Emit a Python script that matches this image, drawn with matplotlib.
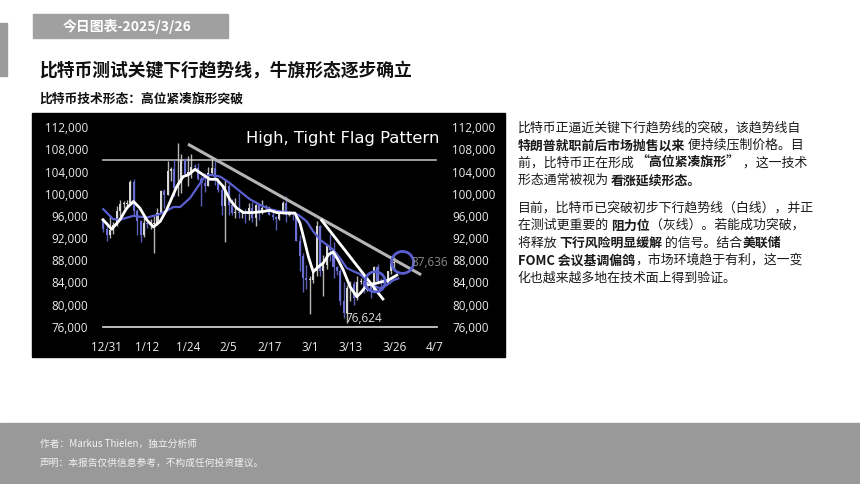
import numpy as np
import pandas as pd
import matplotlib
matplotlib.use("Agg")
import matplotlib.pyplot as plt
from matplotlib.patches import Rectangle

# ---- data (prices in thousands USD) ----
dates = pd.date_range("2024-12-29", "2025-03-25")
opens = [95.2, 93.6, 92.6, 93.4, 94.4, 96.9, 98.1, 98.2, 98.3, 102.1, 96.9, 95.0, 92.5, 94.7, 94.5,
         94.5, 94.5, 96.5, 100.5, 99.8, 104.1, 104.4, 101.1, 102.0, 106.1, 103.6, 104.0, 104.8, 104.7,
         102.6, 102.0, 101.3, 103.7, 104.7, 102.4, 100.6, 97.7, 101.4, 97.9, 96.6, 96.6, 96.5, 96.5,
         96.4, 97.4, 95.7, 97.9, 96.6, 97.5, 97.6, 96.1, 95.8, 95.5, 96.6, 98.3, 96.1, 96.6, 96.3,
         91.5, 88.7, 84.7, 84.4, 84.4, 86.0, 94.2, 86.1, 87.2, 90.6, 89.9, 86.7, 86.1, 80.7, 78.5,
         82.9, 83.7, 81.1, 84.0, 84.3, 82.6, 84.1, 82.7, 86.8, 84.2, 84.0, 83.8, 86.1, 87.5]
highs = [95.2, 94.9, 96.1, 94.9, 97.8, 98.9, 98.7, 98.8, 102.5, 102.7, 97.3, 95.3, 95.8, 94.9, 95.4,
         95.9, 97.4, 100.7, 100.8, 105.9, 104.9, 106.3, 109.1, 107.1, 106.4, 106.8, 107.1, 105.3, 105.5,
         103.2, 103.8, 104.8, 106.4, 106.0, 102.8, 101.5, 102.5, 101.7, 99.0, 99.3, 100.1, 96.9, 97.3,
         98.3, 98.5, 98.1, 98.0, 98.8, 97.9, 97.7, 97.0, 96.0, 96.9, 98.7, 99.5, 96.9, 96.7, 96.5,
         92.5, 89.3, 87.1, 85.1, 86.6, 95.0, 94.4, 88.9, 91.0, 92.8, 91.2, 86.9, 86.5, 84.0, 83.6,
         84.3, 84.3, 85.2, 84.7, 85.0, 84.7, 84.1, 87.0, 87.4, 84.8, 84.5, 86.1, 88.8, 88.5]
lows = [93.0, 91.4, 92.0, 92.8, 94.2, 96.0, 97.5, 97.3, 97.9, 96.2, 92.5, 91.2, 92.2, 93.8, 93.7,
        89.3, 94.3, 96.5, 97.4, 99.8, 102.3, 99.6, 99.5, 100.1, 103.3, 101.3, 102.8, 104.1, 102.5,
        97.8, 100.3, 101.3, 103.3, 101.6, 100.3, 96.2, 91.2, 96.2, 96.2, 95.7, 95.7, 95.7, 94.7,
        95.3, 94.9, 94.1, 95.3, 96.3, 97.2, 96.1, 95.3, 93.4, 95.2, 96.4, 94.9, 95.9, 95.3, 91.4,
        86.1, 82.3, 82.8, 78.2, 83.9, 85.1, 85.1, 81.5, 86.4, 87.8, 84.7, 85.3, 80.0, 77.5, 76.6,
        80.7, 79.9, 80.8, 83.7, 82.1, 82.5, 81.1, 82.4, 83.7, 83.2, 83.7, 83.7, 85.5, 86.3]
closes = [93.6, 92.6, 93.4, 94.4, 96.9, 98.1, 98.2, 98.3, 102.1, 96.9, 95.0, 92.5, 94.7, 94.5, 94.5,
          94.5, 96.5, 100.5, 99.8, 104.1, 104.4, 101.1, 102.0, 106.1, 103.6, 104.0, 104.8, 104.7, 102.6,
          102.0, 101.3, 103.7, 104.7, 102.4, 100.6, 97.7, 101.4, 97.9, 96.6, 96.6, 96.5, 96.5, 96.4,
          97.4, 95.7, 97.9, 96.6, 97.5, 97.6, 96.1, 95.8, 95.5, 96.6, 98.3, 96.1, 96.6, 96.3, 91.5,
          88.7, 84.7, 84.4, 84.4, 86.0, 94.2, 86.1, 87.2, 90.6, 89.9, 86.7, 86.1, 80.7, 78.5, 82.9,
          83.7, 81.1, 84.0, 84.3, 82.6, 84.1, 82.7, 86.8, 84.2, 84.0, 83.8, 86.1, 87.5, 87.6]

# short (white) and long (blue) averages, x = day index
white_x = [-1.1, 1.5, 3.9, 5.9, 7.9, 9.8, 11.8, 13.8, 15.8, 17.7, 20.7, 22.6, 24.1, 26.1, 28.5, 30.5,
           32.5, 34.4, 36.4, 38.4, 40.4, 43.3, 46.3, 48.2, 50.2, 53.2, 55.6, 57.1, 58.1, 59.6, 61.0,
           62.5, 64.0, 65.5, 66.9, 68.4, 69.9, 71.9, 73.9, 75.3, 76.8, 79.3, 81.2, 83.2, 85.7]
white_y = [95.3, 93.6, 95.3, 97.4, 98.6, 97.4, 95.3, 94.0, 95.0, 97.1, 101.3, 103.1, 103.4, 104.4, 103.4,
           102.6, 102.6, 101.3, 98.9, 97.4, 96.6, 96.6, 96.8, 97.0, 96.6, 96.5, 96.5, 94.7, 92.3, 88.6,
           85.9, 86.8, 87.5, 89.0, 89.5, 88.0, 86.2, 83.2, 81.4, 82.3, 83.5, 83.8, 84.1, 84.4, 85.3]
blue_x = [-1.0, 1.9, 3.9, 7.8, 11.8, 15.2, 17.7, 19.7, 21.7, 24.6, 27.6, 29.0, 30.5, 33.5, 36.4, 39.4,
          42.3, 45.3, 48.2, 51.2, 54.2, 56.6, 59.1, 61.0, 63.0, 65.0, 66.9, 68.9, 70.9, 72.9, 74.8,
          76.8, 78.8, 80.7, 82.7, 84.7, 86.1]
blue_y = [97.2, 95.4, 95.3, 96.0, 95.7, 96.2, 96.9, 97.6, 97.6, 99.2, 101.9, 103.1, 103.4, 103.1, 101.9,
          100.4, 99.0, 98.0, 97.2, 96.8, 96.6, 96.2, 95.0, 93.2, 91.7, 90.8, 89.9, 88.4, 86.6, 86.0,
          85.5, 84.4, 83.5, 82.9, 83.5, 84.4, 84.7]

resistance_x, resistance_y = [24.4, 92.5], [108.8, 85.5]   # grey trend line
trend_x, trend_y = [63.5, 81.6], [95.2, 81.0]               # white trend line
range_top, range_bottom = 106.0, 76.0
circle_x, circle_y = [79.3, 87.4], [84.1, 87.6]
last_price, low_price = 87636, 76624

tick_days = [0, 12, 24, 36, 48, 60, 72, 85, 97]
tick_labels = ["12/31", "1/12", "1/24", "2/5", "2/17", "3/1", "3/13", "3/26", "4/7"]
price_ticks = np.arange(76000, 112001, 4000)

# ---- figure ----
W, H = 860, 484
CJK = ["Noto Sans CJK SC", "DejaVu Sans"]
UP, DOWN = "#d8d8d8", "#6a6fd4"


def fx(x):
    return x / W


def fy(y):
    return 1 - y / H


fig = plt.figure(figsize=(W / 100, H / 100), dpi=100)
fig.patch.set_facecolor("white")

# slide decoration
fig.add_artist(Rectangle((0, fy(76)), fx(7), 53 / H, transform=fig.transFigure,
                         color="#9b9b9b", zorder=-2))
fig.add_artist(Rectangle((fx(33), fy(38)), fx(195), 24 / H, transform=fig.transFigure,
                         color="#a0a0a0", zorder=-2))
fig.text(fx(127.5), fy(26.5), "今日图表-2025/3/26", color="white", fontsize=10,
         fontweight="bold", ha="center", va="center", family=CJK)
fig.text(fx(39), fy(70), "比特币测试关键下行趋势线，牛旗形态逐步确立", color="#111111",
         fontsize=12.8, fontweight="bold", va="center", family=CJK)
fig.text(fx(39), fy(99.5), "比特币技术形态：高位紧凑旗形突破", color="#111111",
         fontsize=9.2, fontweight="bold", va="center", family=CJK)

fig.add_artist(Rectangle((0, 0), 1, 61 / H, transform=fig.transFigure,
                         color="#999999", zorder=-2))
fig.text(fx(39.5), fy(444), "作者：Markus Thielen，独立分析师", color="#f2f2f2",
         fontsize=7, va="center", family=CJK)
fig.text(fx(39.5), fy(463), "声明：本报告仅供信息参考，不构成任何投资建议。", color="#f2f2f2",
         fontsize=7, va="center", family=CJK)

# black chart panel
fig.add_artist(Rectangle((fx(32), fy(357)), fx(473), 244 / H, transform=fig.transFigure,
                         color="black", zorder=-1))

ax = fig.add_axes([fx(95), fy(335), fx(350), 215 / H])
ax.set_facecolor("none")
for s in ax.spines.values():
    s.set_visible(False)

x = (dates - pd.Timestamp("2024-12-30")).days.values
o, h, l, c = (np.array(v) * 1000 for v in (opens, highs, lows, closes))
colors = [UP if cc >= oo else DOWN for oo, cc in zip(o, c)]
ax.vlines(x, l, h, colors=colors, lw=1.0, alpha=0.85, zorder=2)
body = np.where(np.abs(c - o) < 150, 150, c - o)
ax.bar(x, body, bottom=o, width=0.6, color=colors, zorder=2)

ax.plot([-1.1, 97.3], [range_top * 1000] * 2, color="#b8b8b8", lw=1.2, zorder=1)
ax.plot([-1.1, 97.6], [range_bottom * 1000] * 2, color="#dddddd", lw=1.2, zorder=1)

ax.plot(blue_x, np.array(blue_y) * 1000, color="#5a5fd0", lw=1.6, zorder=3)
ax.plot(white_x, np.array(white_y) * 1000, color="white", lw=2.0, zorder=4)
ax.plot(resistance_x, np.array(resistance_y) * 1000, color="#b5b5b5", lw=2.2, zorder=4)
ax.plot(trend_x, np.array(trend_y) * 1000, color="white", lw=2.0, zorder=4)
ax.scatter(circle_x, np.array(circle_y) * 1000, s=[210, 250], facecolors="none",
           edgecolors="#5a5fd0", linewidths=2, zorder=5)

ax.annotate(f"{last_price:,}", (circle_x[1], circle_y[1] * 1000), xytext=(6.5, 0),
            textcoords="offset points", color="#8c8c8c", fontsize=8.5, family="Open Sans",
            ha="left", va="center", zorder=6)
ax.annotate(f"{low_price:,}", (71, low_price), xytext=(-1, 3.6),
            textcoords="offset points", color="#e0e0e0", fontsize=8.5, family="Open Sans",
            ha="left", va="center", zorder=6)

ax.set_xlim(-3.46, 99.94)
ax.set_ylim(74500, 113300)
ax.set_xticks(tick_days, tick_labels)
ax.set_yticks(price_ticks, [f"{v:,}" for v in price_ticks])
ax.yaxis.set_ticks_position("both")
ax.tick_params(axis="y", labelleft=True, labelright=True, length=0, pad=5,
               labelcolor="#ececec", labelsize=8.4)
ax.tick_params(axis="x", length=0, pad=4.5, labelcolor="#ececec", labelsize=8.4)
for t in ax.get_xticklabels():
    t.set_family("Open Sans")
for tk in ax.yaxis.get_major_ticks():
    tk.label1.set_family("Open Sans")
    tk.label2.set_family("Open Sans")

fig.text(fx(246), fy(138), "High, Tight Flag Pattern", color="white", fontsize=11.8,
         family="DejaVu Sans", va="center")

# right-hand commentary, mixed bold runs
paragraph = [
    (128, [("比特币正逼近关键下行趋势线的突破，该趋势线自", False)]),
    (145.5, [("特朗普就职前后市场抛售以来", True), (" 便持续压制价格。目", False)]),
    (163, [("前，比特币正在形成 ", False), ("“高位紧凑旗形”", True), (" ，这一技术", False)]),
    (180.5, [("形态通常被视为 ", False), ("看涨延续形态。", True)]),
    (208, [("目前，比特币已突破初步下行趋势线（白线），并正", False)]),
    (225.5, [("在测试更重要的 ", False), ("阻力位", True), ("（灰线）。若能成功突破，", False)]),
    (243, [("将释放 ", False), ("下行风险明显缓解", True), (" 的信号。结合", False), ("美联储", True)]),
    (260.5, [("FOMC 会议基调偏鸽", True), ("，市场环境趋于有利，这一变", False)]),
    (278, [("化也越来越多地在技术面上得到验证。", False)]),
]
renderer = fig.canvas.get_renderer()
for y, runs in paragraph:
    xpos = 518
    for txt, bold in runs:
        t = fig.text(fx(xpos), fy(y), txt, fontsize=9.3, color="#1a1a1a", va="center",
                     fontweight="bold" if bold else "normal", family=CJK)
        xpos += t.get_window_extent(renderer).width

fig.savefig("out.png", dpi=100)
